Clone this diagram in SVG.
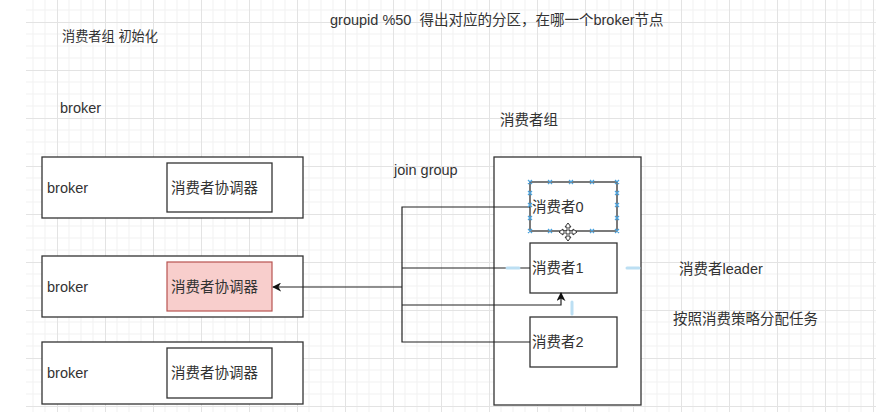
<svg xmlns="http://www.w3.org/2000/svg" width="876" height="412" viewBox="0 0 876 412">
<style>
text{font-family:"Liberation Sans","Noto Sans CJK SC",sans-serif;font-size:14.5px;fill:#333}
.box{fill:#fff;stroke:#333;stroke-width:1.3}
.line{fill:none;stroke:#222;stroke-width:1.2}
.h{stroke:#4aa3df;stroke-width:1.2}
</style>
<defs>
<pattern id="grid" x="9" y="22" width="48" height="48" patternUnits="userSpaceOnUse">
<path d="M12 0V48M24 0V48M36 0V48M0 12H48M0 24H48M0 36H48" fill="none" stroke="#f1f1f1" stroke-width="1"/>
<path d="M0.5 0V48M0 0.5H48" fill="none" stroke="#e3e3e3" stroke-width="1"/>
</pattern>
<marker id="arr" viewBox="0 0 10 10" refX="9" refY="5" markerWidth="9" markerHeight="9" orient="auto" markerUnits="userSpaceOnUse">
<path d="M0 0L10 5L0 10L3 5Z" fill="#111"/>
</marker>
</defs>
<rect width="876" height="412" fill="#fff"/>
<rect x="26" y="0" width="850" height="412" fill="url(#grid)"/>
<text x="62" y="41" style="font-size:13.2px">消费者组 初始化</text>
<text x="330" y="25" xml:space="preserve">groupid %50  得出对应的分区，在哪一个broker节点</text>
<text x="60" y="113">broker</text>
<text x="500" y="125">消费者组</text>
<text x="394" y="175">join group</text>
<text x="679" y="274">消费者leader</text>
<text x="673" y="324">按照消费策略分配任务</text>
<g id="broker1"><rect class="box" x="42" y="157" width="261" height="61"/><text x="47" y="193">broker</text></g>
<g id="coord1"><rect class="box" x="167" y="163" width="105" height="49"/><text x="171" y="193">消费者协调器</text></g>
<g id="broker2"><rect class="box" x="42" y="256" width="261" height="61"/><text x="47" y="292">broker</text></g>
<g id="coord2"><rect x="167" y="262" width="105" height="49" fill="#f8cecc" stroke="#b85450" stroke-width="1.2"/><text x="171" y="292">消费者协调器</text></g>
<g id="broker3"><rect class="box" x="42" y="342" width="261" height="62"/><text x="47" y="378">broker</text></g>
<g id="coord3"><rect class="box" x="167" y="348" width="105" height="50"/><text x="171" y="378">消费者协调器</text></g>
<g id="group"><rect class="box" x="494" y="157" width="147" height="248"/></g>
<g id="c0"><rect class="box" x="530" y="182" width="87" height="49"/><text x="532" y="212">消费者0</text></g>
<g id="c1"><rect class="box" x="530" y="243" width="87" height="50"/><text x="532" y="273">消费者1</text></g>
<g id="c2"><rect class="box" x="530" y="317" width="87" height="50"/><text x="532" y="347">消费者2</text></g>
<g id="connectors">
<path class="line" d="M530 207H402V342H530"/>
<path class="line" d="M402 268H530"/>
<path class="line" d="M402 305H561V293" marker-end="url(#arr)"/>
<path class="line" d="M402 287H273" marker-end="url(#arr)"/>
</g>
<g id="selection" fill="none">
<g class="h">
<path d="M528 180l4 4M532 180l-4 4M548 180l4 4M552 180l-4 4M569 180l4 4M573 180l-4 4M590 180l4 4M594 180l-4 4M615 180l4 4M619 180l-4 4"/>
<path d="M528 229l4 4M532 229l-4 4M548 229l4 4M552 229l-4 4M590 229l4 4M594 229l-4 4M615 229l4 4M619 229l-4 4"/>
<path d="M528 191l4 4M532 191l-4 4M528 203l4 4M532 203l-4 4M528 216l4 4M532 216l-4 4M615 191l4 4M619 191l-4 4M615 203l4 4M619 203l-4 4M615 216l4 4M619 216l-4 4"/>
</g>
<path d="M507 268h12M627 268h12M572 302v12" stroke="#bcdff3" stroke-width="3" stroke-linecap="round"/>
<path d="M568 223l-3 4h2v4h-4v-2l-4 3 4 3v-2h4v4h-2l3 4 3-4h-2v-4h4v2l4-3-4-3v2h-4v-4h2z" fill="#fff" stroke="#333" stroke-width="1"/>
</g>
</svg>
